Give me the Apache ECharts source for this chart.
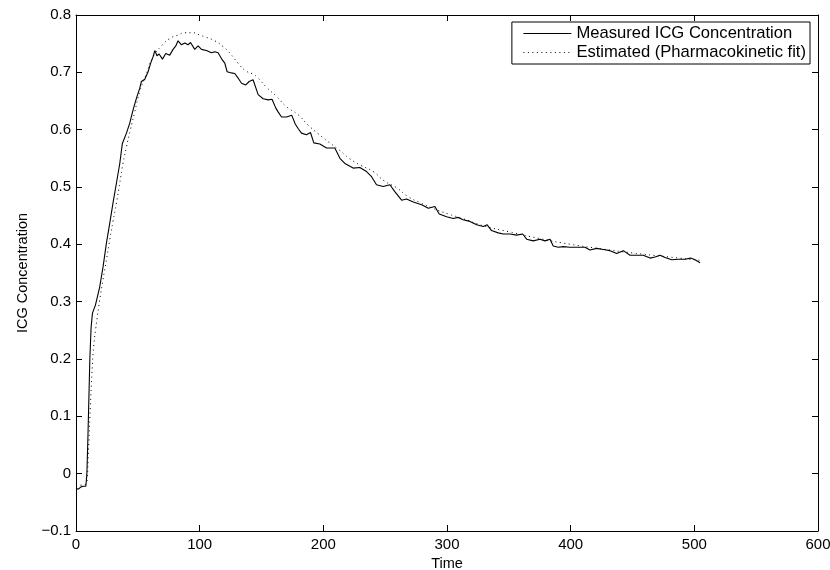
<!DOCTYPE html>
<html>
<head>
<meta charset="utf-8">
<script src="https://cdn.jsdelivr.net/npm/echarts@6/dist/echarts.min.js"></script>
<style>
html,body{margin:0;padding:0;background:#fff;}
#chart{width:830px;height:570px;}
</style>
</head>
<body>
<div id="chart"></div>
<script>
var seriesNames = ['Measured ICG Concentration', 'Estimated (Pharmacokinetic fit)'];
var xTicks = [0, 100, 200, 300, 400, 500, 600];
var yTicks = [-0.1, 0, 0.1, 0.2, 0.3, 0.4, 0.5, 0.6, 0.7, 0.8];

var measuredT = [0,1,2,3,4,5,6,7,8,8.8,9.6,10.4,11.2,12.2,13.3,15.7,19.2,21.9,24.6,27.3,29.9,32.7,35.4,37.5,38.5,40.8,43.4,46.1,48.9,51.5,52.9,55.6,58.3,60.4,62.3,63.7,65.5,67.2,69.9,72.6,75.8,78.5,80.7,82.5,85.3,88,90.6,92.6,96,98.7,101.5,105.5,109.5,112.2,114.9,117.6,120.3,122.2,125.7,128.4,131.1,133.8,137.3,140,143.2,144.6,147.3,151.3,155.5,158.5,161.5,163.4,166.2,170.2,174.5,177.3,179.6,182.3,186.4,189.6,192.3,197.2,202.6,209.3,213.4,217.4,224.1,229.5,234.9,239,243,248.4,253.8,257.8,263.3,267.3,272.7,279.5,284.9,290.2,293.7,299.7,305,309.1,313,318.5,324,329.3,332.5,336,341.4,345.5,350.9,356.3,361.2,364.4,369.7,375.2,379.2,383.3,385.9,390,394,399.4,407.5,411.6,415.6,421,426.4,431.8,437.2,442.6,448,453.4,458.7,464.2,468.2,472.3,476.3,481.7,487.1,492.5,497,500.6,504.6];
var measuredV = [-0.026,-0.028,-0.027,-0.025,-0.023,-0.024,-0.022,-0.023,-0.022,0.0,0.06,0.13,0.2,0.255,0.28,0.294,0.326,0.361,0.402,0.437,0.472,0.507,0.541,0.576,0.578,0.594,0.611,0.634,0.655,0.672,0.684,0.688,0.701,0.716,0.727,0.738,0.729,0.732,0.723,0.733,0.730,0.740,0.746,0.755,0.748,0.751,0.748,0.752,0.740,0.746,0.740,0.738,0.734,0.736,0.734,0.724,0.716,0.701,0.699,0.698,0.690,0.681,0.678,0.684,0.687,0.684,0.661,0.654,0.652,0.653,0.638,0.631,0.622,0.622,0.625,0.610,0.602,0.594,0.591,0.595,0.577,0.575,0.568,0.568,0.550,0.541,0.533,0.534,0.527,0.518,0.504,0.501,0.504,0.492,0.477,0.479,0.474,0.469,0.463,0.466,0.453,0.448,0.445,0.447,0.443,0.440,0.434,0.431,0.434,0.424,0.420,0.418,0.418,0.416,0.418,0.409,0.406,0.409,0.406,0.409,0.397,0.395,0.396,0.395,0.395,0.395,0.390,0.393,0.391,0.389,0.384,0.389,0.381,0.381,0.381,0.376,0.378,0.381,0.377,0.373,0.374,0.374,0.376,0.373,0.368];

var estT = [0,4,8,9,9.7,10.5,11.6,12.9,14.3,16.5,19.2,21.8,24.6,27.3,29.9,32.7,35.4,38,40.8,44,47.5,51.5,55.6,62.3,69.1,75.8,82.5,88,94.7,100.1,105.5,112.2,118.9,125,131,137,143,147.3,154,162.1,170.2,179.6,187.7,195.8,203.9,212,220.9,230.1,240.3,249,259.7,268.6,278,288.3,301,312.6,330,350,375,400,425,450,475,505];
var estV = [-0.02,-0.02,-0.018,-0.01,0.021,0.059,0.117,0.175,0.222,0.262,0.303,0.338,0.373,0.408,0.440,0.472,0.507,0.541,0.570,0.600,0.631,0.666,0.690,0.727,0.746,0.759,0.765,0.769,0.769,0.765,0.761,0.755,0.745,0.732,0.716,0.703,0.697,0.690,0.674,0.658,0.640,0.626,0.608,0.593,0.579,0.566,0.550,0.538,0.527,0.511,0.498,0.483,0.473,0.463,0.453,0.445,0.432,0.422,0.410,0.400,0.392,0.385,0.379,0.372];

function zip(a, b) { return a.map(function (v, i) { return [v, b[i]]; }); }

var FONT = '"Liberation Sans", Arial, Helvetica, sans-serif';
var fmt = function (v) { return String(Math.round(v * 10) / 10).replace('-', '\u2212'); };

var baseX = {
  type: 'value', min: xTicks[0], max: xTicks[xTicks.length - 1], interval: 100,
  axisLine: { show: true, onZero: false, lineStyle: { color: '#000', width: 1 } },
  axisTick: { show: true, inside: true, length: 6, lineStyle: { color: '#000' } },
  splitLine: { show: false },
  axisLabel: { show: true, color: '#000', fontFamily: FONT, fontSize: 15, margin: 6, hideOverlap: false }
};
var baseY = {
  type: 'value', min: yTicks[0], max: yTicks[yTicks.length - 1], interval: 0.1,
  axisLine: { show: true, onZero: false, lineStyle: { color: '#000', width: 1 } },
  axisTick: { show: true, inside: true, length: 6, lineStyle: { color: '#000' } },
  splitLine: { show: false },
  axisLabel: { show: true, color: '#000', fontFamily: FONT, fontSize: 15, margin: 5, formatter: fmt }
};

var chart = echarts.init(document.getElementById('chart'), null, { renderer: 'canvas' });
chart.setOption({
  animation: false,
  backgroundColor: '#fff',
  grid: { left: 76, right: 12, top: 15, bottom: 39, containLabel: false, outerBoundsMode: 'none' },
  xAxis: [
    Object.assign({}, baseX, { position: 'bottom', name: 'Time', nameLocation: 'middle', nameGap: 24,
      nameTextStyle: { color: '#000', fontFamily: FONT, fontSize: 14.5 } }),
    Object.assign({}, baseX, { position: 'top', axisLabel: { show: false } })
  ],
  yAxis: [
    Object.assign({}, baseY, { position: 'left', name: 'ICG Concentration', nameLocation: 'middle', nameGap: 46,
      nameTextStyle: { color: '#000', fontFamily: FONT, fontSize: 14.5 } }),
    Object.assign({}, baseY, { position: 'right', axisLabel: { show: false } })
  ],
  legend: {
    orient: 'vertical', right: 20, top: 22,
    backgroundColor: '#fff', borderColor: '#000', borderWidth: 1,
    padding: [3, 4, 3, 11], itemGap: 2, itemWidth: 48, itemHeight: 14,
    itemStyle: { opacity: 0 },
    lineStyle: { width: 1 },
    textStyle: { color: '#000', fontFamily: FONT, fontSize: 16.6 },
    data: seriesNames
  },
  series: [
    { name: seriesNames[0], type: 'line', xAxisIndex: 0, yAxisIndex: 0,
      data: zip(measuredT, measuredV), symbol: 'none', smooth: false,
      lineStyle: { color: '#000', width: 1.1, type: 'solid' }, itemStyle: { color: '#000' }, z: 3 },
    { name: seriesNames[1], type: 'line', xAxisIndex: 0, yAxisIndex: 0,
      data: zip(estT, estV), symbol: 'none', smooth: true,
      lineStyle: { color: '#000', width: 1, type: [1, 3.5] }, itemStyle: { color: '#000' }, z: 2 }
  ]
});
</script>
</body>
</html>
